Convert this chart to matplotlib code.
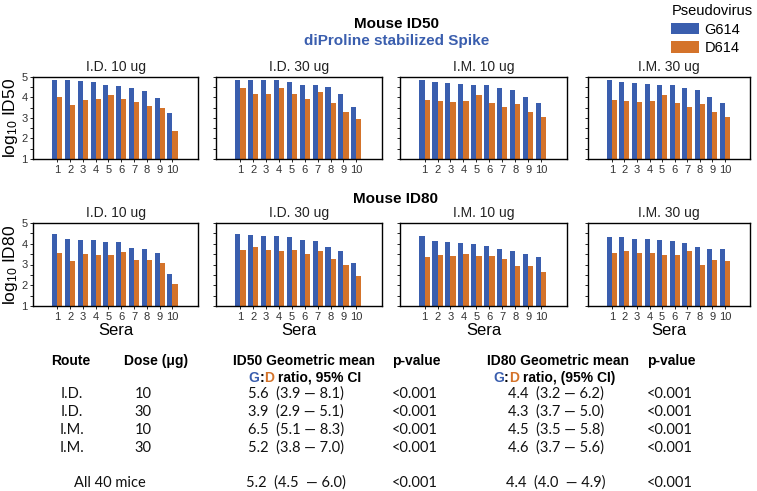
import numpy as np
import matplotlib.pyplot as plt
from matplotlib.ticker import MultipleLocator

plt.rcParams['font.family'] = ['Liberation Sans', 'DejaVu Sans']
plt.rcParams['mathtext.default'] = 'regular'

# ---- data ----
sera = np.arange(1, 11)
panel_titles = ['I.D. 10 ug', 'I.D. 30 ug', 'I.M. 10 ug', 'I.M. 30 ug']

id50_g614 = [
    [4.84, 4.84, 4.79, 4.74, 4.60, 4.55, 4.45, 4.32, 3.98, 3.23],
    [4.84, 4.84, 4.84, 4.84, 4.74, 4.63, 4.63, 4.52, 4.15, 3.55],
    [4.84, 4.74, 4.71, 4.65, 4.63, 4.61, 4.48, 4.39, 4.00, 3.71],
    [4.84, 4.74, 4.71, 4.65, 4.63, 4.61, 4.48, 4.39, 4.00, 3.71],
]
id50_d614 = [
    [4.03, 3.61, 3.87, 3.92, 4.11, 3.95, 3.77, 3.60, 3.50, 2.39],
    [4.47, 4.16, 4.19, 4.47, 4.15, 3.95, 4.26, 3.74, 3.31, 2.94],
    [3.89, 3.82, 3.77, 3.82, 4.10, 3.71, 3.53, 3.68, 3.29, 3.06],
    [3.89, 3.82, 3.77, 3.82, 4.10, 3.71, 3.53, 3.68, 3.29, 3.06],
]
id80_g614 = [
    [4.48, 4.24, 4.19, 4.18, 4.10, 4.10, 3.79, 3.76, 3.55, 2.53],
    [4.48, 4.44, 4.39, 4.35, 4.32, 4.19, 4.13, 3.84, 3.66, 3.06],
    [4.39, 4.13, 4.10, 4.03, 4.00, 3.90, 3.74, 3.65, 3.50, 3.37],
    [4.32, 4.32, 4.23, 4.21, 4.18, 4.13, 4.06, 3.84, 3.74, 3.73],
]
id80_d614 = [
    [3.56, 3.16, 3.53, 3.48, 3.48, 3.61, 3.23, 3.23, 3.08, 2.06],
    [3.68, 3.84, 3.69, 3.66, 3.71, 3.52, 3.65, 3.27, 3.00, 2.45],
    [3.37, 3.44, 3.40, 3.53, 3.39, 3.39, 3.26, 2.95, 2.95, 2.65],
    [3.55, 3.66, 3.55, 3.55, 3.45, 3.48, 3.66, 2.98, 3.23, 3.18],
]

routes = ['I.D.', 'I.D.', 'I.M.', 'I.M.']
doses = ['10', '30', '10', '30']
id50_ratio = ['5.6  (3.9 \u2014 8.1)', '3.9  (2.9 \u2014 5.1)', '6.5  (5.1 \u2014 8.3)', '5.2  (3.8 \u2014 7.0)']
id80_ratio = ['4.4  (3.2 \u2014 6.2)', '4.3  (3.7 \u2014 5.0)', '4.5  (3.5 \u2014 5.8)', '4.6  (3.7 \u2014 5.6)']
id50_p = ['<0.001'] * 4
id80_p = ['<0.001'] * 4
all_label = 'All 40 mice'
all_id50 = '5.2  (4.5  \u2014 6.0)'
all_id80 = '4.4  (4.0  \u2014 4.9)'
all_p50 = '<0.001'
all_p80 = '<0.001'

BLUE = '#3A5EAE'
ORANGE = '#D4732A'

W, H = 757, 491
fig = plt.figure(figsize=(W / 100, H / 100), dpi=100)


def px_axes(x0, x1, y0, y1):
    return fig.add_axes([x0 / W, 1 - y1 / H, (x1 - x0) / W, (y1 - y0) / H])


col_x = [(33, 198), (216, 382), (400, 567), (588, 750)]
rows = [((77, 159), id50_g614, id50_d614, r'log$_{10}$ ID50'),
        ((223, 306), id80_g614, id80_d614, r'log$_{10}$ ID80')]

bw = 0.4
for r, ((y0, y1), gvals, dvals, ylab) in enumerate(rows):
    for c, (x0, x1) in enumerate(col_x):
        ax = px_axes(x0, x1, y0, y1)
        hg = ax.bar(sera - bw / 2, np.array(gvals[c]) - 1, bw, bottom=1, color=BLUE, label='G614')
        hd = ax.bar(sera + bw / 2, np.array(dvals[c]) - 1, bw, bottom=1, color=ORANGE, label='D614')
        ax.set_xlim(-0.9, 12)
        ax.set_ylim(1, 5)
        ax.set_xticks(sera)
        ax.yaxis.set_major_locator(MultipleLocator(1))
        ax.yaxis.set_minor_locator(MultipleLocator(0.5))
        ax.tick_params(axis='both', which='both', direction='out', length=2.5, width=0.6,
                       labelsize=8, labelcolor='#333333', pad=1.5)
        for s in ax.spines.values():
            s.set_linewidth(1.0)
        if c == 0:
            ax.set_ylabel(ylab, fontsize=12.5, labelpad=0.5)
        else:
            ax.set_yticklabels([])
        ax.set_title(panel_titles[c], fontsize=10, pad=4, color='#222222')
        if r == 1:
            ax.set_xlabel('Sera', fontsize=12, labelpad=1)
        if r == 0 and c == 0:
            handles = [hg, hd]

# titles
fig.text(396 / W, 1 - 24 / H, 'Mouse ID50', ha='center', va='center', fontsize=11, fontweight='bold')
fig.text(397 / W, 1 - 41 / H, 'diProline stabilized Spike', ha='center', va='center',
         fontsize=11, fontweight='bold', color=BLUE)
fig.text(395 / W, 1 - 199 / H, 'Mouse ID80', ha='center', va='center', fontsize=11, fontweight='bold')

# legend
fig.legend(handles, ['G614', 'D614'], title='Pseudovirus', loc='upper right',
           bbox_to_anchor=(1.0, 1.0), frameon=False, fontsize=10.5, title_fontsize=10.5,
           handlelength=1.9, handleheight=0.8, labelspacing=0.3, handletextpad=0.35,
           borderpad=0.2, borderaxespad=0.1, alignment='left')

# table
renderer = fig.canvas.get_renderer()


def ftext(x, y, s, **kw):
    return fig.text(x / W, 1 - y / H, s, va='center', **kw)


def gd_line(xc, y, rest):
    pieces = [('G', BLUE), (':', 'black'), ('D', ORANGE), (rest, 'black')]
    objs = [ftext(0, y, s, color=col, fontsize=10, fontweight='bold', ha='left') for s, col in pieces]
    widths = [o.get_window_extent(renderer).width for o in objs]
    x = xc - sum(widths) / 2
    for o, w in zip(objs, widths):
        o.set_x(x / W)
        x += w


hdr = dict(fontsize=10, fontweight='bold')
body = dict(fontsize=10.5, family=['Lato', 'Liberation Sans'], color='#111111')

ftext(71, 361, 'Route', ha='center', **hdr)
ftext(156, 361, 'Dose (\u03bcg)', ha='center', **hdr)
ftext(304, 361, 'ID50 Geometric mean', ha='center', **hdr)
ftext(392, 361, 'p-value', ha='left', **hdr)
ftext(558, 361, 'ID80 Geometric mean', ha='center', **hdr)
ftext(647, 361, 'p-value', ha='left', **hdr)
gd_line(305, 378, ' ratio, 95% CI')
gd_line(554, 378, ' ratio, (95% CI)')

row_y = [394, 412, 430, 448]
for i, y in enumerate(row_y):
    ftext(72, y, routes[i], ha='center', **body)
    ftext(143, y, doses[i], ha='center', **body)
    ftext(296, y, id50_ratio[i], ha='center', **body)
    ftext(392, y, id50_p[i], ha='left', **body)
    ftext(556, y, id80_ratio[i], ha='center', **body)
    ftext(647, y, id80_p[i], ha='left', **body)

ftext(110, 483, all_label, ha='center', **body)
ftext(296, 483, all_id50, ha='center', **body)
ftext(392, 483, all_p50, ha='left', **body)
ftext(556, 483, all_id80, ha='center', **body)
ftext(647, 483, all_p80, ha='left', **body)

fig.savefig('out.png', dpi=100)
